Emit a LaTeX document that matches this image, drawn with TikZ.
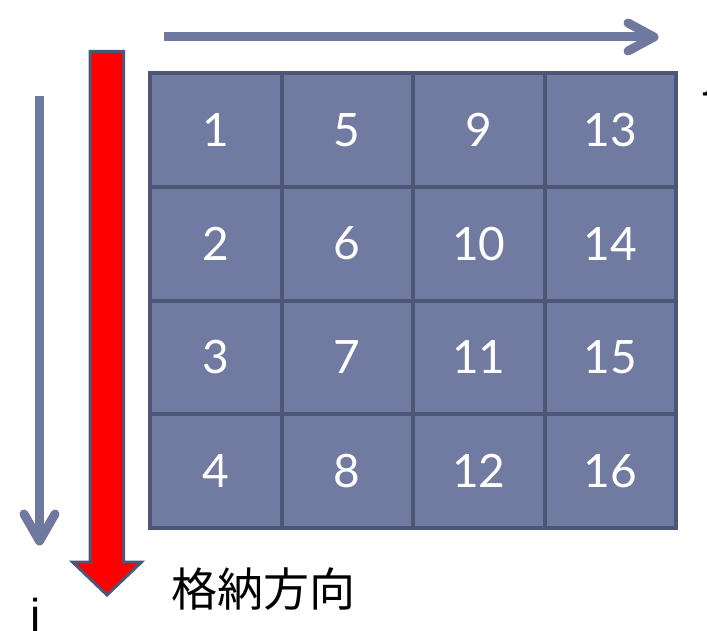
\documentclass[tikz,border=0pt]{standalone}
\usepackage{fontspec}
\usetikzlibrary{calc}
\setmainfont{Liberation Sans}
\newfontfamily\numfont{Lato}
\newfontfamily\cjk{Noto Sans CJK JP}
\definecolor{cellfill}{HTML}{717BA1}
\definecolor{cellline}{HTML}{4E5676}
\definecolor{arrowblue}{HTML}{6F79A0}
\tikzset{
  cell/.style={draw=cellline, line width=4pt, fill=cellfill, minimum width=131.5pt,
    minimum height=113.75pt, inner sep=0pt, text=white,
    font=\numfont\fontsize{46}{46}\selectfont},
  shaft/.style={draw=arrowblue, line width=9pt, line cap=butt},
  chevron/.style={draw=arrowblue, line width=9pt, line cap=round, line join=round},
  axislabel/.style={inner sep=0pt, anchor=base west, font=\fontsize{46}{46}\selectfont}
}
\begin{document}
\begin{tikzpicture}[x=1pt,y=1pt]
\useasboundingbox (0,0) rectangle (707,-631);
% grid
\foreach \c in {0,1,2,3}{
  \foreach \r in {0,1,2,3}{
    \pgfmathtruncatemacro{\n}{\c*4+\r+1}
    \node[cell] (c\n) at ({150+131.5*(\c+0.5)},{-73-113.75*(\r+0.5)}) {\n};
  }
}
% horizontal j arrow
\coordinate (hs) at (164,-37);
\coordinate (ht) at (654,-37);
\coordinate (hu) at (628,-23);
\coordinate (hl) at (628,-51);
\draw[shaft] (hs) -- ($(ht)+(-4,0)$);
\draw[chevron] (hu) -- (ht) -- (hl);
% vertical i arrow
\coordinate (vs) at (39.5,-96);
\coordinate (vt) at (39.5,-541);
\coordinate (vl) at (24,-514);
\coordinate (vr) at (55,-514);
\draw[shaft] (vs) -- ($(vt)+(0,4)$);
\draw[chevron] (vl) -- (vt) -- (vr);
% red storage arrow
\draw[draw=cellline, line width=3pt, fill=red, line join=miter]
  (90,-51.5) -- (123.5,-51.5) -- (123.5,-562) -- (141.5,-562) -- (107,-595)
  -- (72.5,-562) -- (90,-562) -- cycle;
% labels
\node[anchor=west, inner sep=0pt, font=\cjk\fontsize{46}{46}\selectfont] (lab) at (171,-589) {格納方向};
\node[axislabel] (ilab) at (30,-631) {i};
\node[axislabel] (jlab) at (704.5,-87) {j};
\end{tikzpicture}
\end{document}
